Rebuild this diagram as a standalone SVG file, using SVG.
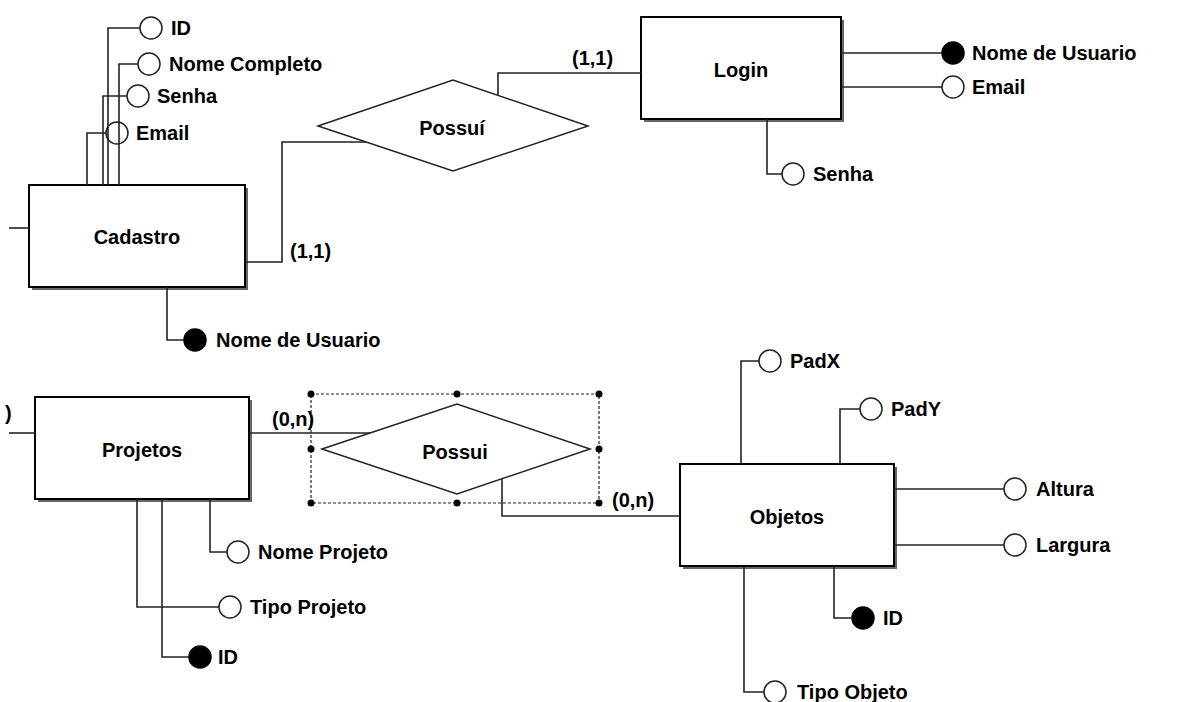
<svg xmlns="http://www.w3.org/2000/svg" width="1180" height="702" viewBox="0 0 1180 702">
<style>
text{font-family:"Liberation Sans",Arial,Helvetica,sans-serif;font-weight:bold;font-size:20px;fill:#000}
.lbl{text-anchor:middle}
.box{fill:#fff;stroke:#000;stroke-width:2}
.shadow{fill:#666;stroke:none}
.rel{fill:#fff;stroke:#222;stroke-width:1.5}
.att{fill:#fff;stroke:#222;stroke-width:1.5}
.key{fill:#000;stroke:#000;stroke-width:1.5}
.con{fill:none;stroke:#222;stroke-width:1.6}
.sel{fill:none;stroke:#222;stroke-width:1.2;stroke-dasharray:3,2}
.hd{fill:#000}
</style>
<rect width="1180" height="702" fill="#fff"/>

<g id="cadastro">
<rect class="shadow" x="32" y="188" width="216" height="102"/>
<rect class="box" x="29" y="185" width="216" height="102"/>
<text class="lbl" x="137" y="244">Cadastro</text>
</g>
<g id="login">
<rect class="shadow" x="644" y="20" width="200" height="102"/>
<rect class="box" x="641" y="17" width="200" height="102"/>
<text class="lbl" x="741" y="77">Login</text>
</g>
<g id="projetos">
<rect class="shadow" x="38" y="400" width="214" height="102"/>
<rect class="box" x="35" y="397" width="214" height="102"/>
<text class="lbl" x="142" y="457">Projetos</text>
</g>
<g id="objetos">
<rect class="shadow" x="683" y="467" width="214" height="102"/>
<rect class="box" x="680" y="464" width="214" height="102"/>
<text class="lbl" x="787" y="524">Objetos</text>
</g>

<g id="possui1">
<polygon class="rel" points="318,126 453,80 588,126 453,171"/>
<text class="lbl" x="452" y="135">Possuí</text>
</g>
<g id="possui2">
<polygon class="rel" points="322,449 457,404 590,449 457,494"/>
<text class="lbl" x="455" y="459">Possui</text>
<rect class="sel" x="311" y="394" width="288" height="109"/>
<circle class="hd" cx="311" cy="394" r="3.5"/>
<circle class="hd" cx="457" cy="394" r="3.5"/>
<circle class="hd" cx="599" cy="394" r="3.5"/>
<circle class="hd" cx="311" cy="449" r="3.5"/>
<circle class="hd" cx="599" cy="449" r="3.5"/>
<circle class="hd" cx="311" cy="503" r="3.5"/>
<circle class="hd" cx="457" cy="503" r="3.5"/>
<circle class="hd" cx="599" cy="503" r="3.5"/>
</g>

<g id="cad-attrs">
<circle class="att" cx="151" cy="28" r="11"/><text x="171" y="35">ID</text>
<circle class="att" cx="149" cy="64" r="11"/><text x="169" y="71">Nome Completo</text>
<circle class="att" cx="138" cy="96" r="11"/><text x="157" y="103">Senha</text>
<circle class="att" cx="117" cy="133" r="11"/><text x="136" y="140">Email</text>
<circle class="key" cx="195" cy="340" r="11"/><text x="216" y="347">Nome de Usuario</text>
</g>
<g id="login-attrs">
<circle class="key" cx="953" cy="53" r="11"/><text x="972" y="60">Nome de Usuario</text>
<circle class="att" cx="953" cy="87" r="11"/><text x="972" y="94">Email</text>
<circle class="att" cx="793" cy="174" r="11"/><text x="813" y="181">Senha</text>
</g>
<g id="proj-attrs">
<circle class="att" cx="238" cy="552" r="11"/><text x="258" y="559">Nome Projeto</text>
<circle class="att" cx="230" cy="607" r="11"/><text x="250" y="614">Tipo Projeto</text>
<circle class="key" cx="200" cy="657" r="11"/><text x="218" y="664">ID</text>
<text x="5" y="420">)</text>
</g>
<g id="obj-attrs">
<circle class="att" cx="770" cy="361" r="11"/><text x="790" y="368">PadX</text>
<circle class="att" cx="871" cy="409" r="11"/><text x="891" y="416">PadY</text>
<circle class="att" cx="1015" cy="489" r="11"/><text x="1036" y="496">Altura</text>
<circle class="att" cx="1015" cy="545" r="11"/><text x="1036" y="552">Largura</text>
<circle class="key" cx="863" cy="618" r="11"/><text x="883" y="625">ID</text>
<circle class="att" cx="775" cy="692" r="11"/><text x="797" y="699">Tipo Objeto</text>
</g>

<g id="connectors">
<path class="con" d="M245,262 H282 V142 H366"/>
<path class="con" d="M498,95 V73 H641"/>
<path class="con" d="M249,433 H370"/>
<path class="con" d="M502,479 V516 H680"/>
<path class="con" d="M108,185 V28 H140"/>
<path class="con" d="M119,185 V64 H138"/>
<path class="con" d="M103,185 V96 H127"/>
<path class="con" d="M87,185 V133 H106"/>
<path class="con" d="M167,287 V340 H184"/>
<path class="con" d="M9,228 H29"/>
<path class="con" d="M841,53 H942"/>
<path class="con" d="M841,87 H942"/>
<path class="con" d="M767,119 V174 H782"/>
<path class="con" d="M9,433 H35"/>
<path class="con" d="M210,499 V552 H227"/>
<path class="con" d="M137,499 V607 H219"/>
<path class="con" d="M162,499 V657 H189"/>
<path class="con" d="M741,464 V361 H759"/>
<path class="con" d="M840,464 V409 H860"/>
<path class="con" d="M894,489 H1004"/>
<path class="con" d="M894,545 H1004"/>
<path class="con" d="M834,566 V618 H852"/>
<path class="con" d="M744,566 V692 H764"/>
<text x="290" y="258">(1,1)</text>
<text x="572" y="65">(1,1)</text>
<text x="272" y="426">(0,n)</text>
<text x="612" y="507">(0,n)</text>
</g>
</svg>
